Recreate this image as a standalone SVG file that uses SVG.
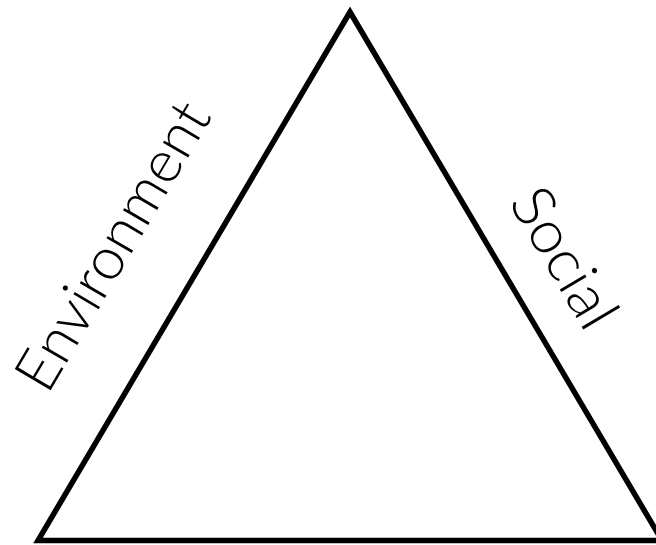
<svg xmlns="http://www.w3.org/2000/svg" width="656" height="545" viewBox="0 0 656 545">
<style>
.side{fill:none;stroke:#000;stroke-width:5.5;stroke-linejoin:miter;stroke-miterlimit:10}
.lbl{font-family:"Lato","Liberation Sans",sans-serif;font-weight:300;font-size:59px;fill:#000;text-anchor:middle}
</style>
<rect width="656" height="545" fill="#fff"/>
<g id="connectors">
<polygon class="side" points="350,12 38,540.5 662,540.5"/>
</g>
<g id="environment">
<text class="lbl" transform="translate(130,256) rotate(-59.4)" textLength="324" lengthAdjust="spacingAndGlyphs">Environment</text>
</g>
<g id="social">
<text class="lbl" transform="translate(547,268) rotate(59.4)" textLength="153" lengthAdjust="spacingAndGlyphs">Social</text>
</g>
</svg>
